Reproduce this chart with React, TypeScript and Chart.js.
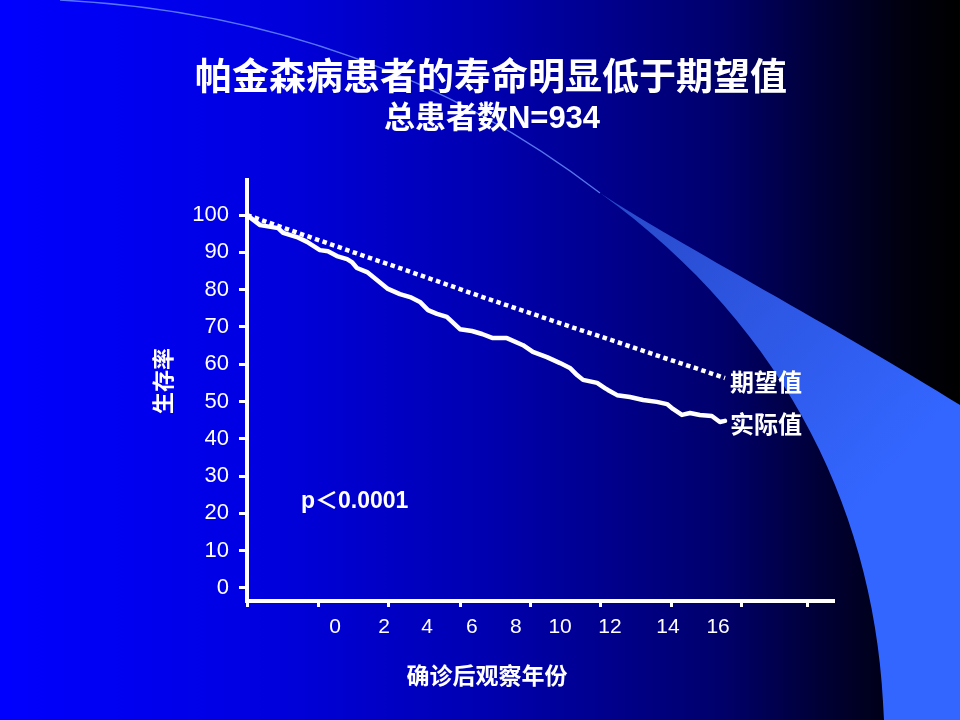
import React, { useEffect, useRef } from "react";
import { Chart, registerables } from "chart.js";

Chart.register(...registerables);

// ---------- text ----------
const titleText = "帕金森病患者的寿命明显低于期望值";
const subtitleText = "总患者数N=934";
const yAxisTitle = "生存率";
const xAxisTitle = "确诊后观察年份";
const pValueText = "p＜0.0001";
const expectedLabel = "期望值";
const actualLabel = "实际值";

// ---------- data ----------
const yTickValues = [0, 10, 20, 30, 40, 50, 60, 70, 80, 90, 100];
const xTickLabels = ["0", "2", "4", "6", "8", "10", "12", "14", "16"];

const expectedYears = [0, 1, 2, 3, 4, 5, 6, 7, 8, 9, 10, 11, 12, 13, 14, 15, 16];
const expectedSurvival = [100, 97.2, 94.4, 91.6, 88.8, 86.1, 83.3, 80.5, 77.7, 75.0, 72.3, 69.6, 67.0, 64.3, 61.6, 59.0, 56.3];

const actualYears = [
  0, 0.44, 1.04, 1.21, 1.67, 2.01, 2.44, 2.71, 3.01, 3.35, 3.51, 3.68, 4.02, 4.35, 4.72, 5.12,
  5.46, 5.79, 6.06, 6.36, 6.69, 7.13, 7.53, 7.87, 8.23, 8.7, 9.24, 9.57, 10.04, 10.48, 10.81,
  11.05, 11.25, 11.72, 11.98, 12.08, 12.39, 12.82, 13.26, 13.72, 14.06, 14.26, 14.56, 14.83,
  15.16, 15.56, 15.83, 16.0,
];
const actualSurvival = [
  100, 97.3, 96.5, 95.2, 94.1, 92.8, 90.6, 90.3, 89.0, 88.2, 87.4, 85.8, 84.7, 82.6, 80.2, 78.8,
  78.0, 76.7, 74.5, 73.5, 72.7, 69.4, 68.9, 68.1, 67.0, 67.0, 65.1, 63.3, 61.9, 60.3, 59.0,
  57.1, 55.8, 55.0, 53.6, 53.1, 51.7, 51.2, 50.4, 49.9, 49.3, 48.0, 46.4, 46.9,
  46.4, 46.1, 44.5, 44.8,
];

// ---------- axis layout (in axis units) ----------
const xLabelPositions = [2.95, 4.59, 6.03, 7.53, 9.0, 10.48, 12.15, 14.09, 15.77];
const xMarkPositions = [0, 2.4, 4.75, 7.15, 9.5, 11.85, 14.2, 16.55, 18.75];

const LATIN = "'Liberation Sans', Arial, sans-serif";
const MIXED = "'Liberation Sans', 'Noto Sans CJK SC', sans-serif";
const CJK = "'Noto Sans CJK SC', 'Liberation Sans', sans-serif";

const backgroundPlugin = {
  id: "slideBackground",
  beforeDraw(chart: any) {
    const { ctx, width, height } = chart;
    ctx.save();
    const g = ctx.createLinearGradient(0, 0, width, 0);
    g.addColorStop(0, "rgb(0,0,255)");
    g.addColorStop(0.25, "rgb(0,0,228)");
    g.addColorStop(0.5, "rgb(0,0,178)");
    g.addColorStop(0.75, "rgb(0,0,108)");
    g.addColorStop(0.86, "rgb(0,0,52)");
    g.addColorStop(0.94, "rgb(0,0,16)");
    g.addColorStop(1, "rgb(0,0,0)");
    ctx.fillStyle = g;
    ctx.fillRect(0, 0, width, height);

    // swoosh shape
    const sx = 600, sy = 193;
    const fg = ctx.createLinearGradient(sx, sy, 900, 460);
    fg.addColorStop(0, "rgb(40,72,200)");
    fg.addColorStop(1, "rgb(51,102,255)");
    ctx.fillStyle = fg;
    ctx.beginPath();
    ctx.moveTo(sx, sy);
    ctx.bezierCurveTo(680, 245, 840, 330, 960, 405);
    ctx.lineTo(960, 720);
    ctx.lineTo(884, 720);
    ctx.bezierCurveTo(878, 520, 790, 330, sx, sy);
    ctx.closePath();
    ctx.fill();

    ctx.strokeStyle = "rgba(110,145,255,0.8)";
    ctx.lineWidth = 1.3;
    ctx.beginPath();
    ctx.moveTo(60, 0);
    ctx.bezierCurveTo(260, 10, 440, 70, sx, sy);
    ctx.stroke();
    ctx.restore();
  },
};

const textPlugin = {
  id: "slideTexts",
  afterDraw(chart: any) {
    const { ctx } = chart;
    ctx.save();
    ctx.fillStyle = "#ffffff";
    ctx.textBaseline = "middle";

    ctx.textAlign = "center";
    ctx.font = `bold 37px ${CJK}`;
    ctx.fillText(titleText, 491, 76);
    ctx.font = `bold 31px ${MIXED}`;
    ctx.fillText(subtitleText, 492, 119);

    ctx.font = `bold 23px ${CJK}`;
    ctx.fillText(xAxisTitle, 487, 675);

    ctx.save();
    ctx.translate(163, 381);
    ctx.rotate(-Math.PI / 2);
    ctx.font = `bold 22px ${CJK}`;
    ctx.fillText(yAxisTitle, 0, 0);
    ctx.restore();

    ctx.textAlign = "left";
    ctx.font = `bold 23px ${MIXED}`;
    ctx.fillText(pValueText, 301, 502);

    ctx.font = `bold 24px ${CJK}`;
    ctx.fillText(expectedLabel, 730, 382);
    ctx.fillText(actualLabel, 730, 424);
    ctx.restore();
  },
};

export default function App() {
  const canvasRef = useRef<HTMLCanvasElement | null>(null);

  useEffect(() => {
    document.body.style.margin = "0";
    const canvas = canvasRef.current;
    if (!canvas) return;

    const expectedData = expectedYears.map((x, i) => ({ x, y: expectedSurvival[i] }));
    const actualData = actualYears.map((x, i) => ({ x, y: actualSurvival[i] }));

    const chart = new Chart(canvas, {
      type: "line",
      data: {
        datasets: [
          {
            label: expectedLabel,
            data: expectedData,
            borderColor: "#ffffff",
            borderWidth: 4.5,
            borderDash: [4.5, 3.5],
            borderCapStyle: "butt",
            pointRadius: 0,
            tension: 0,
            fill: false,
          },
          {
            label: actualLabel,
            data: actualData,
            borderColor: "#ffffff",
            borderWidth: 4.5,
            borderJoinStyle: "round",
            borderCapStyle: "round",
            pointRadius: 0,
            tension: 0,
            fill: false,
          },
        ],
      },
      options: {
        responsive: false,
        animation: false,
        devicePixelRatio: 1,
        layout: { padding: { top: 180, right: 126, left: 0, bottom: 0 } },
        plugins: {
          legend: { display: false },
          tooltip: { enabled: false },
          title: { display: false },
        },
        scales: {
          x: {
            type: "linear",
            min: 0,
            max: 19.65,
            border: { display: true, color: "#ffffff", width: 4 },
            grid: {
              display: true,
              drawOnChartArea: false,
              drawTicks: true,
              tickLength: 6,
              tickWidth: 3,
              tickColor: (c: any) => (c.tick && c.tick.mark ? "#ffffff" : "rgba(0,0,0,0)"),
            },
            ticks: {
              autoSkip: false,
              maxRotation: 0,
              minRotation: 0,
              color: "#ffffff",
              padding: 8,
              font: { family: LATIN, size: 21 },
              callback: (_v: any, i: number, ticks: any[]) => ticks[i].text,
            },
            afterBuildTicks: (scale: any) => {
              const marks = xMarkPositions.map((v) => ({ value: v, mark: true, text: "" }));
              const labels = xLabelPositions.map((v, i) => ({ value: v, mark: false, text: xTickLabels[i] }));
              scale.ticks = [...marks, ...labels].sort((a, b) => a.value - b.value);
            },
            afterFit: (scale: any) => {
              scale.height = 119;
            },
          },
          y: {
            type: "linear",
            min: -3.5,
            max: 109.4,
            border: { display: true, color: "#ffffff", width: 4 },
            grid: {
              display: true,
              drawOnChartArea: false,
              drawTicks: true,
              tickLength: 8,
              tickWidth: 3,
              tickColor: "#ffffff",
            },
            ticks: {
              color: "#ffffff",
              padding: 10,
              font: { family: LATIN, size: 22 },
            },
            afterBuildTicks: (scale: any) => {
              scale.ticks = yTickValues.map((v) => ({ value: v }));
            },
            afterFit: (scale: any) => {
              scale.width = 247;
            },
          },
        },
      },
      plugins: [backgroundPlugin, textPlugin],
    } as any);

    return () => {
      chart.destroy();
    };
  }, []);

  return (
    <div style={{ width: 960, height: 720, position: "relative" }}>
      <canvas ref={canvasRef} width={960} height={720} style={{ display: "block" }} />
    </div>
  );
}
